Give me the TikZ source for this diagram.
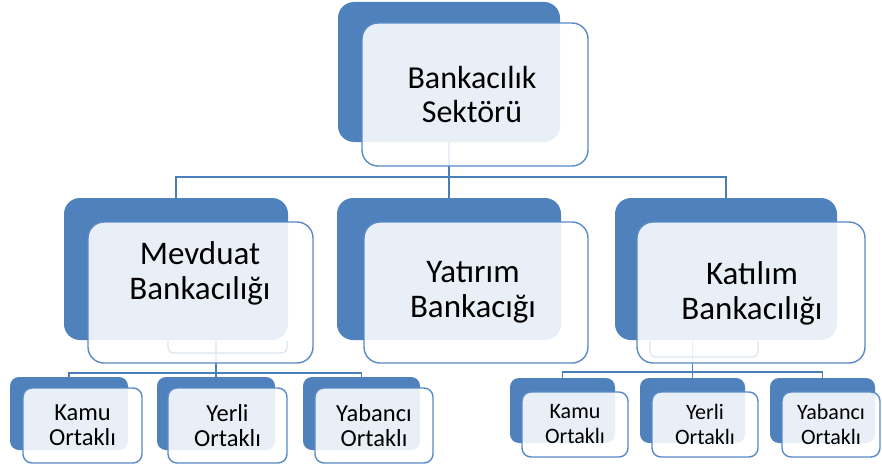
\documentclass[tikz,border=0pt]{standalone}
\usepackage{fontspec}
\setmainfont{Carlito}
\definecolor{accent}{HTML}{4F81BD}
\definecolor{frame}{HTML}{5A8AC6}
\definecolor{wire}{HTML}{4A7EBB}
\definecolor{ghost}{HTML}{DDE5F1}
\tikzset{
  backbox/.style={fill=accent, draw=none, rounded corners=#1, inner sep=0pt, outer sep=0pt},
  frontbox/.style={fill=white, fill opacity=0.88, draw=frame, draw opacity=1, line width=1.4pt,
                   rounded corners=#1, inner sep=0pt, outer sep=0pt},
  conn/.style={draw=wire, line width=1.8pt},
  ghostline/.style={draw=ghost, line width=1.2pt, rounded corners=5pt},
  lbl/.style={align=center, inner sep=0pt, text=black},
  big/.style={lbl, font=\fontsize{32}{34}\selectfont},
  mid/.style={lbl, font=\fontsize{33}{35}\selectfont},
  smallL/.style={lbl, font=\fontsize{24.5}{25}\selectfont},
  smallR/.style={lbl, font=\fontsize{22}{25}\selectfont}
}
% box by its corners: name, x1, y1, x2, y2, style
\newcommand\orgbox[6]{%
  \node[#6, minimum width={(#4-#2)*1pt}, minimum height={(#5-#3)*1pt}] (#1)
    at ({(#2+#4)/2},{(#3+#5)/2}) {};}
\begin{document}
\begin{tikzpicture}[x=1pt,y=-1pt]
\fill[white] (0,0) rectangle (882,468);
\useasboundingbox (0,0) rectangle (882,468);

% ---- back (accent) boxes
\orgbox{topB}{338}{2}{560}{142}{backbox=16pt}
\orgbox{mevB}{64}{198}{288}{340}{backbox=16pt}
\orgbox{yatB}{337}{198}{561}{340}{backbox=16pt}
\orgbox{katB}{615}{198}{837}{340}{backbox=16pt}
\orgbox{lkB}{10}{377}{128}{450}{backbox=9pt}
\orgbox{lyB}{157}{377}{275}{450}{backbox=9pt}
\orgbox{laB}{303}{377}{420}{450}{backbox=9pt}
\orgbox{rkB}{510}{378}{615}{443}{backbox=9pt}
\orgbox{ryB}{640}{378}{745}{443}{backbox=9pt}
\orgbox{raB}{770}{378}{875}{443}{backbox=9pt}

% ---- connectors
\draw[conn] (topB.south) -- ++(0,35) coordinate (bus1);
\draw[conn] (mevB.north) |- (bus1) -| (katB.north);
\draw[conn] (bus1) -- (bus1 |- yatB.north);

\draw[conn] (lyB.north |- mevB.south) -- (lyB.north);
\draw[conn] (lkB.north) -- ++(0,-4) -| (laB.north);

\draw[conn] (ryB.north |- katB.south) -- (ryB.north);
\draw[conn] (rkB.north) -- ++(0,-6) -| (raB.north);

% ---- front (framed) boxes
\orgbox{topF}{362}{23}{588}{166}{frontbox=16pt}
\orgbox{mevF}{88}{222}{313}{363}{frontbox=16pt}
\orgbox{yatF}{364}{222}{588}{363}{frontbox=16pt}
\orgbox{katF}{637}{222}{865}{363}{frontbox=16pt}
\orgbox{lkF}{23}{388}{142}{463}{frontbox=9pt}
\orgbox{lyF}{168}{388}{287}{463}{frontbox=9pt}
\orgbox{laF}{315}{388}{433}{463}{frontbox=9pt}
\orgbox{rkF}{522}{392}{628}{457}{frontbox=9pt}
\orgbox{ryF}{652}{392}{758}{457}{frontbox=9pt}
\orgbox{raF}{782}{392}{880}{457}{frontbox=9pt}

% faint outlines below the second-level boxes
\draw[ghostline] (168,341) -- (168,353) -- (287,353) -- (287,341);
\draw[ghostline] (650,341) -- (650,357) -- (758,357) -- (758,341);

% ---- labels
\node[big] (topT) at (472,95) {Bankacılık\\Sektörü};
\node[mid] (mevT) at (200,273) {Mevduat\\Bankacılığı};
\node[mid] (yatT) at (473,292) {Yatırım\\Bankacığı};
\node[mid] (katT) at (752,293) {Katılım\\Bankacılığı};
\node[smallL] (lkT) at (lkF.center) {Kamu\\Ortaklı};
\node[smallL] (lyT) at (lyF.center) {Yerli\\Ortaklı};
\node[smallL] (laT) at (laF.center) {Yabancı\\Ortaklı};
\node[smallR] (rkT) at (rkF.center) {Kamu\\Ortaklı};
\node[smallR] (ryT) at (ryF.center) {Yerli\\Ortaklı};
\node[smallR] (raT) at (raF.center) {Yabancı\\Ortaklı};
\end{tikzpicture}
\end{document}
